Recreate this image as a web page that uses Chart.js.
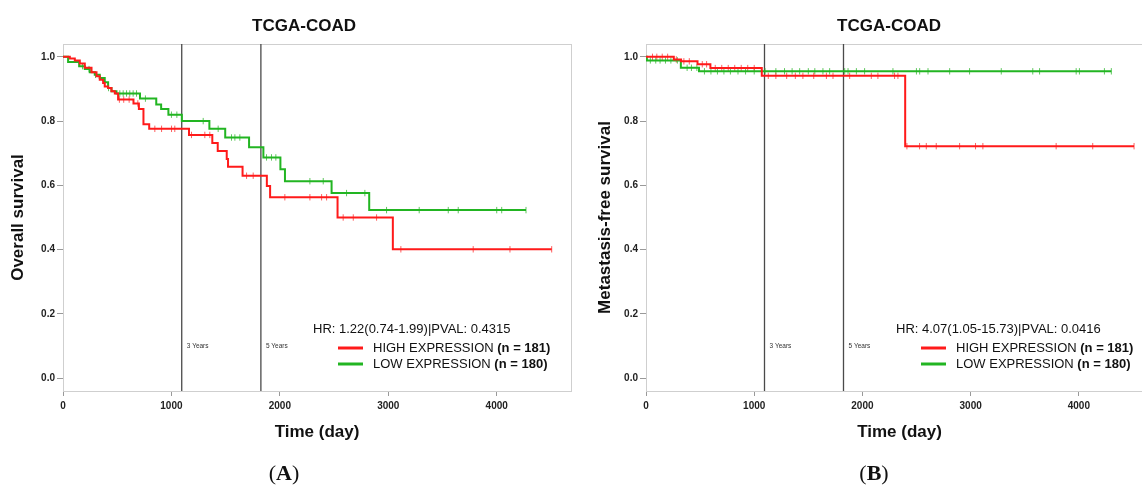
<!DOCTYPE html>
<html>
<head>
<meta charset="utf-8">
<script src="https://cdn.jsdelivr.net/npm/chart.js@4"></script>
<style>
  body { margin: 0; width: 1142px; height: 486px; overflow: hidden; position: relative; background: #fff; }
  .wrap { position: absolute; top: 0; }
  .panel-label { position: absolute; top: 459px; width: 100px; text-align: center;
    font-family: 'Liberation Serif', 'Times New Roman', serif; font-size: 22px; color: #111; line-height: 28px; }
</style>
</head>
<body>
<div class="wrap" style="left:0px"><canvas id="chartA" width="610" height="486"></canvas></div>
<div class="wrap" style="left:590px"><canvas id="chartB" width="600" height="486"></canvas></div>
<div class="panel-label" style="left:234px">(<b>A</b>)</div>
<div class="panel-label" style="left:824px">(<b>B</b>)</div>
<script>
const xTicks = [0, 1000, 2000, 3000, 4000];
const yTicks = [0, 0.2, 0.4, 0.6, 0.8, 1.0];
const yearMarks = [1095, 1825];
const yearLabels = ['3 Years', '5 Years'];
const groupNames = ['HIGH EXPRESSION', 'LOW EXPRESSION'];
const groupN = [181, 180];

// (A) overall survival
const osHighTime = [0, 63, 109, 155, 201, 263, 309, 339, 370, 385, 416, 447, 478, 508, 650, 700, 742, 795, 1162, 1377, 1427, 1510, 1522, 1656, 1880, 1910, 2532, 3042, 4507];
const osHighSurv = [1.0, 0.995, 0.989, 0.979, 0.966, 0.952, 0.940, 0.929, 0.919, 0.908, 0.903, 0.893, 0.886, 0.867, 0.855, 0.838, 0.790, 0.776, 0.757, 0.732, 0.707, 0.682, 0.658, 0.630, 0.598, 0.563, 0.500, 0.401, 0.401];
const osHighCensor = [520, 560, 610, 690, 847, 909, 1001, 1031, 1185, 1308, 1354, 1693, 1754, 2046, 2277, 2385, 2431, 2584, 2677, 2892, 3116, 3783, 4122, 4507];
const osLowTime = [0, 47, 149, 201, 247, 293, 339, 385, 416, 447, 493, 710, 860, 905, 972, 1096, 1350, 1496, 1716, 1848, 2005, 2047, 2477, 2824, 4270];
const osLowSurv = [1.0, 0.984, 0.971, 0.962, 0.952, 0.944, 0.934, 0.921, 0.903, 0.893, 0.886, 0.870, 0.852, 0.838, 0.820, 0.800, 0.776, 0.749, 0.719, 0.687, 0.650, 0.613, 0.576, 0.523, 0.523];
const osLowCensor = [180, 240, 300, 420, 524, 555, 586, 616, 647, 678, 760, 1000, 1050, 1293, 1431, 1554, 1585, 1631, 1877, 1923, 1963, 2277, 2400, 2615, 2784, 2984, 3285, 3553, 3645, 4000, 4046, 4270];
const osStats = 'HR: 1.22(0.74-1.99)|PVAL: 0.4315';

// (B) metastasis-free survival
const mfsHighTime = [0, 257, 324, 476, 595, 1070, 2395, 4510];
const mfsHighSurv = [1.0, 0.992, 0.986, 0.977, 0.965, 0.941, 0.722, 0.722];
const mfsHighCensor = [60, 100, 150, 200, 280, 350, 400, 520, 560, 640, 700, 760, 820, 880, 940, 1000, 1130, 1200, 1300, 1380, 1450, 1550, 1667, 1728, 1882, 2082, 2143, 2297, 2328, 2411, 2528, 2590, 2682, 2898, 3045, 3113, 3790, 4128, 4510];
const mfsLowTime = [0, 8, 322, 490, 4300];
const mfsLowSurv = [1.0, 0.989, 0.966, 0.955, 0.955];
const mfsLowCensor = [40, 90, 130, 180, 230, 290, 380, 420, 470, 540, 600, 660, 720, 780, 850, 920, 1000, 1100, 1200, 1280, 1350, 1420, 1500, 1560, 1635, 1697, 1836, 1867, 1944, 2020, 2282, 2499, 2529, 2606, 2806, 2990, 3283, 3574, 3637, 3975, 4005, 4236, 4300];
const mfsStats = 'HR: 4.07(1.05-15.73)|PVAL: 0.0416';

const RED = '#ff1a1a';
const GREEN = '#22b522';
const FONT = "'Liberation Sans', Arial, sans-serif";

function survAt(times, surv, t) {
  let s = surv[0];
  for (let i = 0; i < times.length; i++) if (times[i] <= t) s = surv[i];
  return s;
}

function curve(times, surv) {
  return times.map((t, i) => ({ x: t, y: surv[i] }));
}

function censorPts(times, surv, cens) {
  return cens.map(t => ({ x: t, y: survAt(times, surv, t) }));
}

const panelPlugin = {
  id: 'panelText',
  beforeDatasetsDraw(chart) {
    const { ctx, chartArea: a, scales: { x, y } } = chart;
    ctx.save();
    ctx.strokeStyle = '#cfcfcf';
    ctx.lineWidth = 1;
    ctx.strokeRect(a.left + 0.5, a.top + 0.5, a.right - a.left, a.bottom - a.top);
    ctx.strokeStyle = '#4a4a4a';
    ctx.lineWidth = 1.3;
    yearMarks.forEach((d, i) => {
      const px = x.getPixelForValue(d);
      ctx.beginPath();
      ctx.moveTo(px, a.top);
      ctx.lineTo(px, a.bottom);
      ctx.stroke();
      ctx.fillStyle = '#333';
      ctx.font = '6.5px ' + FONT;
      ctx.textBaseline = 'middle';
      ctx.fillText(yearLabels[i], px + 5, y.getPixelForValue(0.1));
    });
    ctx.restore();
  },
  afterDatasetsDraw(chart, args, opts) {
    const { ctx, chartArea: a } = chart;
    ctx.save();
    ctx.fillStyle = '#111';
    ctx.textBaseline = 'middle';
    ctx.textAlign = 'center';
    ctx.font = 'bold 17px ' + FONT;
    ctx.fillText('TCGA-COAD', opts.titleX, 26);
    ctx.textAlign = 'left';
    ctx.font = '13px ' + FONT;
    ctx.fillText(opts.stats, a.left + 250, 329);
    [RED, GREEN].forEach((c, i) => {
      const ly = 348 + i * 16;
      ctx.strokeStyle = c;
      ctx.lineWidth = 3;
      ctx.beginPath();
      ctx.moveTo(a.left + 275, ly);
      ctx.lineTo(a.left + 300, ly);
      ctx.stroke();
      ctx.font = '13px ' + FONT;
      const label = groupNames[i] + ' ';
      ctx.fillText(label, a.left + 310, ly);
      const w = ctx.measureText(label).width;
      ctx.font = 'bold 13px ' + FONT;
      ctx.fillText('(n = ' + groupN[i] + ')', a.left + 310 + w, ly);
    });
    ctx.restore();
  }
};

function makeChart(id, d, o) {
  return new Chart(document.getElementById(id), {
    type: 'line',
    data: {
      datasets: [
        { data: curve(d.hiT, d.hiS), borderColor: RED, borderWidth: 2, stepped: true, pointRadius: 0 },
        { data: curve(d.loT, d.loS), borderColor: GREEN, borderWidth: 2, stepped: true, pointRadius: 0 },
        { data: censorPts(d.hiT, d.hiS, d.hiC), showLine: false, pointStyle: 'line', rotation: 90,
          pointRadius: 3.2, borderColor: 'rgba(255,40,40,0.75)', borderWidth: 1 },
        { data: censorPts(d.loT, d.loS, d.loC), showLine: false, pointStyle: 'line', rotation: 90,
          pointRadius: 3.2, borderColor: 'rgba(40,180,40,0.75)', borderWidth: 1 }
      ]
    },
    options: {
      responsive: false,
      animation: false,
      layout: { padding: { left: 0, top: 44, right: o.padRight, bottom: 0 } },
      plugins: {
        legend: { display: false },
        tooltip: { enabled: false },
        panelText: { titleX: o.titleX, stats: o.stats }
      },
      scales: {
        x: {
          type: 'linear', min: 0, max: 4685,
          afterFit: s => { s.height = 95; },
          afterBuildTicks: s => { s.ticks = xTicks.map(v => ({ value: v })); },
          grid: { drawOnChartArea: false, tickLength: 5, color: '#999' },
          border: { color: '#a8a8a8' },
          ticks: { padding: 4, color: '#222', font: { family: FONT, size: 10, weight: 'bold' }, maxRotation: 0,
            callback: v => String(v) },
          title: { display: true, text: 'Time (day)', color: '#111',
            font: { family: FONT, size: 17, weight: 'bold' }, padding: { top: 0, bottom: 43 } }
        },
        y: {
          min: -0.04, max: 1.04,
          afterFit: s => { s.width = o.yWidth; },
          afterBuildTicks: s => { s.ticks = yTicks.map(v => ({ value: v })); },
          grid: { drawOnChartArea: false, tickLength: 6, color: '#999' },
          border: { color: '#a8a8a8' },
          ticks: { padding: 2, color: '#222', font: { family: FONT, size: 10, weight: 'bold' },
            callback: v => v.toFixed(1) },
          title: { display: true, text: o.yTitle, color: '#111',
            font: { family: FONT, size: 17, weight: 'bold' }, padding: { top: o.yTitlePad, bottom: 0 } }
        }
      }
    },
    plugins: [panelPlugin]
  });
}

makeChart('chartA',
  { hiT: osHighTime, hiS: osHighSurv, hiC: osHighCensor, loT: osLowTime, loS: osLowSurv, loC: osLowCensor },
  { padRight: 39, yWidth: 63, yTitle: 'Overall survival', yTitlePad: 8, titleX: 304, stats: osStats });
makeChart('chartB',
  { hiT: mfsHighTime, hiS: mfsHighSurv, hiC: mfsHighCensor, loT: mfsLowTime, loS: mfsLowSurv, loC: mfsLowCensor },
  { padRight: 37, yWidth: 56, yTitle: 'Metastasis-free survival', yTitlePad: 5, titleX: 299, stats: mfsStats });
</script>
</body>
</html>
